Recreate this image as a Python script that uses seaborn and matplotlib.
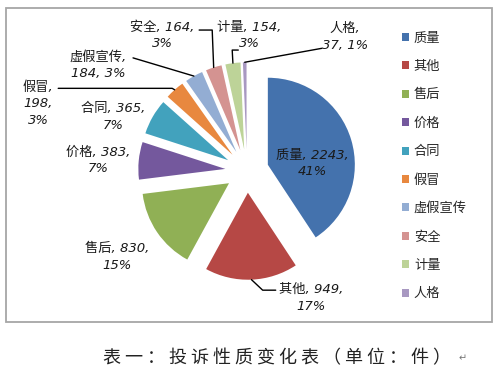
import matplotlib
matplotlib.use('Agg')
import matplotlib.pyplot as plt
import seaborn as sns
import numpy as np
from matplotlib.patches import Rectangle

# data
categories = ['质量', '其他', '售后', '价格', '合同', '假冒', '虚假宣传', '安全', '计量', '人格']
counts = [2243, 949, 830, 383, 365, 198, 184, 164, 154, 37]
shares = ['41%', '17%', '15%', '7%', '7%', '3%', '3%', '3%', '3%', '1%']
palette = ['#4472AD', '#B64845', '#90B055', '#74589D', '#42A2BD',
           '#E8883F', '#93ADD3', '#D49391', '#BDD398', '#A898C1']
caption = '表一：投诉性质变化表（单位：件）'

# label layout: how each label wraps, where it sits, leader elbows (data units)
wraps = {'假冒': '{n},\n{c},\n{p}', '虚假宣传': '{n},\n{c}, {p}', '人格': '{n},\n{c}, {p}'}
label_pos = {
    '质量': (0.75, 0.09), '其他': (0.74, -1.46), '售后': (-1.49, -0.99),
    '价格': (-1.71, 0.12), '合同': (-1.54, 0.62), '假冒': (-2.40, 0.77),
    '虚假宣传': (-1.71, 1.21), '安全': (-0.97, 1.56), '计量': (0.03, 1.56),
    '人格': (1.13, 1.54),
}
leaders = {
    '其他': [(0.18, -1.37), (0.33, -1.37)],
    '假冒': [(-0.86, 0.95), (-2.17, 0.95)],
    '虚假宣传': [(-1.31, 1.30)],
    '安全': [(-0.40, 1.62), (-0.55, 1.62)],
    '计量': [(-0.17, 1.39), (-0.10, 1.39)],
    '人格': [(0.86, 1.41)],
}

sns.set_theme(style='white')
plt.rcParams['font.family'] = ['DejaVu Sans', 'Noto Sans CJK SC']

fig = plt.figure(figsize=(5, 3.79), dpi=100)
ax = fig.add_axes([0.233, 0.2045, 0.522, 0.6887])
wedges, _ = ax.pie(counts, colors=palette, startangle=90, counterclock=False,
                   explode=[0.25] * len(counts), radius=1,
                   wedgeprops=dict(linewidth=0))
ax.set_xlim(-1.5, 1.5)
ax.set_ylim(-1.5, 1.5)
ax.set_aspect('equal')

for w, name, c, p in zip(wedges, categories, counts, shares):
    fmt = wraps.get(name, '{n}, {c},\n{p}')
    lx, ly = label_pos[name]
    ax.text(lx, ly, fmt.format(n=name, c=c, p=p), ha='center', va='center',
            fontsize=9.5, style='italic', color='#1a1a1a', linespacing=1.35,
            family=['DejaVu Sans', 'Noto Sans CJK SC'], clip_on=False)
    if name in leaders:
        t = np.radians((w.theta1 + w.theta2) / 2)
        ex = w.center[0] + w.r * np.cos(t)
        ey = w.center[1] + w.r * np.sin(t)
        pts = [(ex, ey)] + leaders[name]
        ax.plot([q[0] for q in pts], [q[1] for q in pts], color='black',
                lw=1.0, clip_on=False)

fig.legend(wedges, categories, loc='upper left', bbox_to_anchor=(0.804, 0.917),
           frameon=False, prop={'family': 'Noto Sans CJK SC', 'size': 9.5},
           handlelength=0.55, handleheight=0.55, handletextpad=0.35,
           labelspacing=1.17, borderpad=0, borderaxespad=0)

fig.add_artist(Rectangle((0.012, 0.150), 0.972, 0.829, transform=fig.transFigure,
                         fill=False, edgecolor='#A6A6A6', lw=1.3))

fig.text(0.554, 0.055, ' '.join(caption), ha='center', va='center', fontsize=13,
         family=['Noto Sans CJK SC'], color='#222222')
fig.text(0.926, 0.055, '↵', ha='center', va='center', fontsize=7,
         family=['DejaVu Sans'], color='#777777')

fig.savefig('out.png', dpi=100)
